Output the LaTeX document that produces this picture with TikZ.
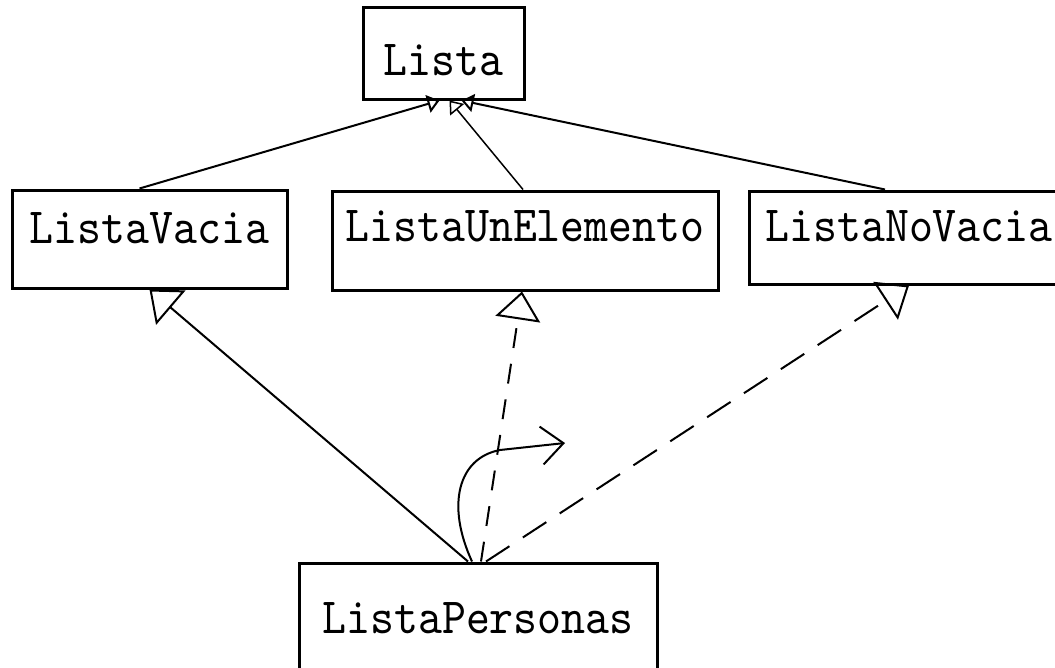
\documentclass[tikz,border=0pt]{standalone}
\usepackage{fontspec}
\newfontfamily\umlfont{lmmono10-regular}[Extension=.otf, FakeStretch=0.9]
\usetikzlibrary{arrows.meta,positioning}
\begin{document}
\begin{tikzpicture}[node distance=187.5pt, line width=2pt]
    \tikzstyle{clase} = [rectangle, draw, line width=3pt, inner sep=0pt, text depth=0pt, font=\umlfont\fontsize{50.7pt}{50.7pt}\selectfont]
    \tikzstyle{hereda} = [-{Triangle[open, length=28pt, width=45pt]}]
    \tikzstyle{arriba} = [-{Triangle[open, length=12pt, width=18pt]}]
    \useasboundingbox (0,0) rectangle (1055pt,-667pt);
    \node [clase, minimum width=161pt, minimum height=92pt, text height=45pt] (lista) at (443.5pt,-53pt) {Lista};
    \node [clase, below of=lista, xshift=81.5pt, minimum width=386pt, minimum height=99pt, text height=2pt] (unel) {ListaUnElemento};
    \node [clase, left of=unel, xshift=-188pt, yshift=1.5pt, minimum width=275pt, minimum height=98pt, text height=9pt] (vacia) {ListaVacia};
    \node [clase, right of=unel, xshift=196.5pt, yshift=3pt, minimum width=320pt, minimum height=93pt, text height=8pt] (novacia) {ListaNoVacia};
    \node [clase, below of=unel, xshift=-47pt, yshift=-190pt, minimum width=358pt, minimum height=110pt, text height=31pt] (personas) {ListaPersonas};
    \coordinate (bucle) at (565pt,-443pt);

    % herencia hacia Lista
    \draw [arriba] ([xshift=-10pt]vacia.north) -- ([xshift=-4pt]lista.south);
    \draw [arriba, line width=1.5pt] ([xshift=-2pt]unel.north) -- ([xshift=6pt]lista.south);
    \draw [arriba] ([xshift=-24pt]novacia.north) -- ([xshift=18pt]lista.south);

    % ListaPersonas
    \draw [hereda] ([xshift=-10pt]personas.north) -- (vacia.south);
    \draw [hereda, dash pattern=on 20pt off 16pt] ([xshift=3pt]personas.north) -- ([xshift=-3pt]unel.south);
    \draw [hereda, dash pattern=on 28pt off 16pt] ([xshift=8pt]personas.north) -- (novacia.south);
    \draw [-{Straight Barb[length=22pt, width=38pt]}] ([xshift=-6pt]personas.north) .. controls (446pt,-505pt) and (458pt,-458pt) .. (500pt,-450pt) -- (bucle);
\end{tikzpicture}
\end{document}
